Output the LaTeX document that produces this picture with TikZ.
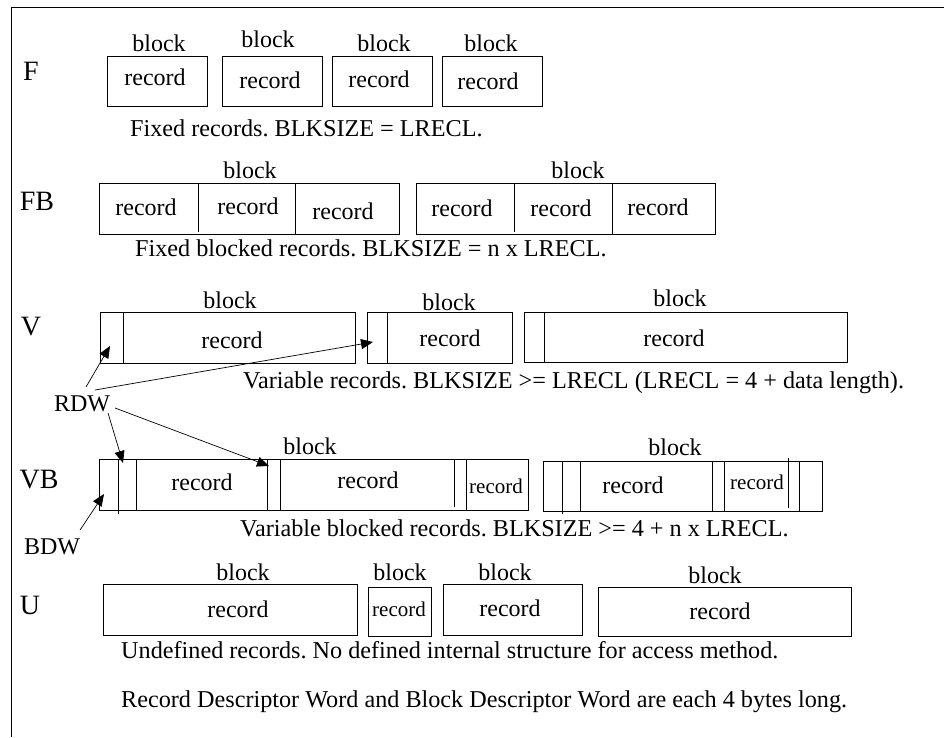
\documentclass[tikz,border=0pt]{standalone}
\usepackage{fontspec}
\setmainfont{Liberation Serif}
\usetikzlibrary{arrows.meta}
\frenchspacing
\begin{document}
\begin{tikzpicture}[x=1pt,y=-1pt,
  txt/.style={inner sep=0pt, font=\fontsize{24}{28}\selectfont},
  sml/.style={inner sep=0pt, font=\fontsize{21}{24}\selectfont},
  lbl/.style={inner sep=0pt, font=\fontsize{28}{33}\selectfont},
  captxt/.style={inner sep=0pt, anchor=west, font=\fontsize{24.2}{28}\selectfont},
  box/.style={line width=1pt},
  ptr/.style={line width=0.7pt, -{Triangle[length=12pt,width=10pt]}}
]
\useasboundingbox (0,0) rectangle (944,737);
% frame
\draw[line width=1pt] (11,737) -- (11,7.5) -- (944,7.5);

% ---------------- F ----------------
\node[lbl] (lF) at (31,71) {F};
\draw[box] (107,56) rectangle (207,106);
\draw[box] (222,56) rectangle (322,106);
\draw[box] (332,56) rectangle (432,106);
\draw[box] (442,56) rectangle (542,106);
\node[txt] (fb1) at (159,43) {block};
\node[txt] (fb2) at (268,39) {block};
\node[txt] (fb3) at (384,43) {block};
\node[txt] (fb4) at (491,43) {block};
\node[txt] (fr1) at (155,77) {record};
\node[txt] (fr2) at (270,80) {record};
\node[txt] (fr3) at (379,79) {record};
\node[txt] (fr4) at (488,81) {record};
\node[captxt] (fcap) at (130,128) {Fixed records. BLKSIZE = LRECL.};

% ---------------- FB ----------------
\node[lbl] (lFB) at (37,201) {FB};
\draw[box] (99,183) rectangle (399,234);
\draw[box] (198,183) -- (198,232);
\draw[box] (295,183) -- (295,234);
\draw[box] (416,183) rectangle (715,234);
\draw[box] (514,183) -- (514,232);
\draw[box] (612,183) -- (612,234);
\node[txt] (fbb1) at (250,170) {block};
\node[txt] (fbb2) at (578,170) {block};
\node[txt] (fbr1) at (146,207) {record};
\node[txt] (fbr2) at (248,206) {record};
\node[txt] (fbr3) at (343,211) {record};
\node[txt] (fbr4) at (462,208) {record};
\node[txt] (fbr5) at (561,208) {record};
\node[txt] (fbr6) at (658,207) {record};
\node[captxt] (fbcap) at (135,248) {Fixed blocked records. BLKSIZE = n x LRECL.};

% ---------------- V ----------------
\node[lbl] (lV) at (31,327) {V};
\draw[box] (100,312) rectangle (355,363);
\draw[box] (123,312) -- (123,363);
\draw[box] (367,312) rectangle (512,363);
\draw[box] (387,312) -- (387,363);
\draw[box] (524,312) rectangle (847,362);
\draw[box] (544,312) -- (544,362);
\node[txt] (vb1) at (230,300) {block};
\node[txt] (vb2) at (449,302) {block};
\node[txt] (vb3) at (680,298) {block};
\node[txt] (vr1) at (232,340) {record};
\node[txt] (vr2) at (450,338) {record};
\node[txt] (vr3) at (674,338) {record};
\node[captxt] (vcap) at (243,383) {Variable records. BLKSIZE >= LRECL (LRECL = 4 + data length).};

% ---------------- VB ----------------
\node[lbl] (lVB) at (39,480) {VB};
\draw[box] (99,459) rectangle (528,510);
\draw[box] (118,459) -- (118,514);
\draw[box] (136,459) -- (136,510);
\draw[box] (267,459) -- (267,510);
\draw[box] (280,459) -- (280,510);
\draw[box] (454,459) -- (454,507);
\draw[box] (466,459) -- (466,510);
\draw[box] (543,461) rectangle (822,511);
\draw[box] (562,461) -- (562,514);
\draw[box] (580,461) -- (580,511);
\draw[box] (712,461) -- (712,511);
\draw[box] (724,461) -- (724,511);
\draw[box] (788,458) -- (788,508);
\draw[box] (799,461) -- (799,511);
\node[txt] (vbb1) at (310,446) {block};
\node[txt] (vbb2) at (675,447) {block};
\node[txt] (vbr1) at (202,482) {record};
\node[txt] (vbr2) at (368,480) {record};
\node[sml] (vbr3) at (496,486) {record};
\node[txt] (vbr4) at (633,485) {record};
\node[sml] (vbr5) at (757,482) {record};
\node[captxt] (vbcap) at (240,528) {Variable blocked records. BLKSIZE >= 4 + n x LRECL.};

% ---------------- RDW / BDW ----------------
\node[txt] (rdw) at (82,404) {RDW};
\node[txt] (bdw) at (52,547) {BDW};
\coordinate (s1) at (86,387);
\coordinate (t1) at (110,346);
\coordinate (s2) at (95,390);
\coordinate (t2) at (373,342);
\coordinate (s3) at (108,413);
\coordinate (t3) at (123,463);
\coordinate (s4) at (115,408);
\coordinate (t4) at (269,466);
\coordinate (s5) at (80,530);
\coordinate (t5) at (104,494);
\draw[ptr] (s1) -- (t1);
\draw[ptr] (s2) -- (t2);
\draw[ptr] (s3) -- (t3);
\draw[ptr] (s4) -- (t4);
\draw[ptr] (s5) -- (t5);

% ---------------- U ----------------
\node[lbl] (lU) at (30,605) {U};
\draw[box] (103,584) rectangle (357,635);
\draw[box] (368,587) rectangle (431,636);
\draw[box] (443,584) rectangle (582,635);
\draw[box] (598,587) rectangle (851,636);
\node[txt] (ub1) at (243,572) {block};
\node[txt] (ub2) at (400,572) {block};
\node[txt] (ub3) at (505,572) {block};
\node[txt] (ub4) at (715,575) {block};
\node[txt] (ur1) at (238,609) {record};
\node[sml] (ur2) at (399,609) {record};
\node[txt] (ur3) at (510,608) {record};
\node[txt] (ur4) at (720,611) {record};
\node[captxt] (ucap) at (121,650) {Undefined records. No defined internal structure for access method.};

\node[captxt] (note) at (121,702) {Record Descriptor Word and Block Descriptor Word are each 4 bytes long.};
\end{tikzpicture}
\end{document}
